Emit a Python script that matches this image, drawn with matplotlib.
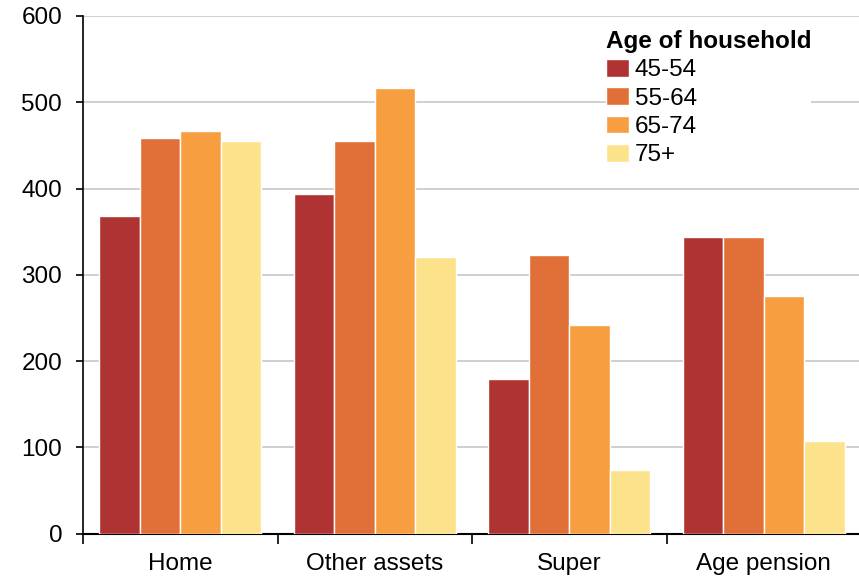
import matplotlib
matplotlib.use("Agg")
import matplotlib.pyplot as plt
import numpy as np

plt.rcParams["font.family"] = ["Liberation Sans", "DejaVu Sans"]

categories = ["Home", "Other assets", "Super", "Age pension"]
age_groups = ["45-54", "55-64", "65-74", "75+"]
v_45_54 = [368, 394, 179, 344]
v_55_64 = [459, 455, 323, 344]
v_65_74 = [467, 517, 242, 275]
v_75p = [455, 321, 74, 108]
series = [v_45_54, v_55_64, v_65_74, v_75p]
colors = ["#B03333", "#E07037", "#F79E41", "#FDE28C"]

FS = 17.5

fig = plt.figure(figsize=(8.59, 5.78), dpi=100)
ax = fig.add_axes([83 / 859, 1 - 533.7 / 578, 778 / 859, (533.7 - 16) / 578])

x = np.arange(len(categories))
w = 0.208
for i, (vals, c, lab) in enumerate(zip(series, colors, age_groups)):
    ax.bar(x + (i - 1.5) * w, vals, w, color=c, edgecolor="white",
           linewidth=1, label=lab, zorder=3)

ax.set_xlim(-0.5, 3.5)
ax.set_ylim(0, 600)
ax.set_yticks(range(0, 601, 100))
ax.yaxis.grid(True, color="#cccccc", linewidth=1.3, zorder=0)
ax.set_axisbelow(True)

for s in ["top", "right"]:
    ax.spines[s].set_visible(False)
ax.spines["left"].set_linewidth(1.2)
ax.spines["bottom"].set_linewidth(1.5)

ax.set_xticks(x)
ax.set_xticklabels(categories)
ax.set_xticks(np.arange(-0.5, 3.6, 1), minor=True)
ax.tick_params(axis="x", which="major", length=0, pad=14, labelsize=FS)
ax.tick_params(axis="x", which="minor", length=7, width=1.2, direction="out")
ax.tick_params(axis="y", length=5, width=1.2, pad=10, labelsize=FS)

leg = ax.legend(title="Age of household", loc="upper left",
                bbox_to_anchor=(593.5 / 859, 1 - 17.5 / 578),
                bbox_transform=fig.transFigure,
                fontsize=FS, title_fontproperties={"weight": "bold", "size": FS},
                frameon=True, facecolor="white", edgecolor="none", framealpha=1,
                fancybox=False, handlelength=0.95, handleheight=0.75,
                handletextpad=0.25, labelspacing=0.25, borderpad=0.0,
                alignment="left")
leg.set_zorder(5)

fig.savefig("out.png", dpi=100)
